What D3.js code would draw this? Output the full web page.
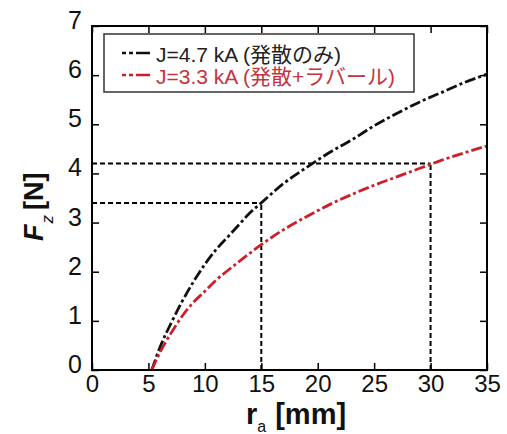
<!DOCTYPE html>
<html>
<head>
<meta charset="utf-8">
<script src="https://cdn.jsdelivr.net/npm/d3@7/dist/d3.min.js"></script>
<style>
  html, body { margin: 0; padding: 0; background: #fff; }
  svg { display: block; font-family: "Liberation Sans", Arial, "Noto Sans CJK JP", sans-serif; }
</style>
</head>
<body>
<svg id="chart" width="507" height="434"></svg>
<script>
  // values
  var radius = [5.3, 6, 7, 8, 9, 10, 11, 12, 13, 14, 15, 17, 19, 21, 23, 25, 27, 29, 31, 33, 35];
  var forceDiffOnly = [0, 0.45, 0.95, 1.4, 1.8, 2.15, 2.45, 2.7, 2.95, 3.2, 3.4, 3.8, 4.12, 4.42, 4.68, 4.97, 5.22, 5.45, 5.65, 5.85, 6.02];
  var forceDiffLaval = [0, 0.35, 0.75, 1.1, 1.38, 1.6, 1.83, 2.02, 2.2, 2.38, 2.55, 2.86, 3.12, 3.36, 3.57, 3.76, 3.93, 4.1, 4.27, 4.42, 4.56];
  var seriesNames = ['J=4.7 kA (発散のみ)', 'J=3.3 kA (発散+ラバール)'];
  var seriesColors = ['#111111', '#cc1f2a'];
  var textColors = ['#222222', '#c8323c'];
  var xTicks = [0, 5, 10, 15, 20, 25, 30, 35];
  var yTicks = [0, 1, 2, 3, 4, 5, 6, 7];
  // reference guides: [x, y] where each guide meets its curve
  var guides = [[15, 3.4], [30, 4.2]];

  var svg = d3.select('#chart');
  var m = { left: 92, right: 487, top: 26, bottom: 370 };

  var x = d3.scaleLinear().domain([0, 35]).range([m.left, m.right]);
  var y = d3.scaleLinear().domain([0, 7]).range([m.bottom, m.top]);

  // guide lines
  var g = svg.append('g');
  guides.forEach(function (p) {
    g.append('line')
      .attr('x1', x(0)).attr('x2', x(p[0]))
      .attr('y1', y(p[1])).attr('y2', y(p[1]))
      .attr('stroke', '#000').attr('stroke-width', 2).attr('stroke-dasharray', '5,3');
    g.append('line')
      .attr('x1', x(p[0])).attr('x2', x(p[0]))
      .attr('y1', y(0)).attr('y2', y(p[1]))
      .attr('stroke', '#000').attr('stroke-width', 2).attr('stroke-dasharray', '5,3');
  });

  // curves
  var line = d3.line()
    .x(function (d) { return x(d[0]); })
    .y(function (d) { return y(d[1]); })
    .curve(d3.curveMonotoneX);

  [forceDiffOnly, forceDiffLaval].forEach(function (vals, i) {
    svg.append('path')
      .datum(radius.map(function (r, k) { return [r, vals[k]]; }))
      .attr('d', line)
      .attr('fill', 'none')
      .attr('stroke', seriesColors[i])
      .attr('stroke-width', 2.8)
      .attr('stroke-dasharray', '11,3,3,3');
  });

  // axes (inward ticks on all four sides)
  var tickLen = 7;
  svg.append('g').attr('transform', 'translate(0,' + m.bottom + ')')
    .call(d3.axisBottom(x).tickValues(xTicks).tickFormat(d3.format('d')).tickSize(-tickLen).tickPadding(6))
    .call(function (a) {
      a.select('.domain').remove();
      a.selectAll('line').attr('stroke', '#000').attr('stroke-width', 1.5);
      a.selectAll('text').attr('font-size', 24).attr('fill', '#111').attr('dy', '0.78em').attr('y', 3);
    });
  svg.append('g').attr('transform', 'translate(0,' + m.top + ')')
    .call(d3.axisTop(x).tickValues(xTicks).tickSize(-tickLen).tickFormat(''))
    .call(function (a) {
      a.select('.domain').remove();
      a.selectAll('line').attr('stroke', '#000').attr('stroke-width', 1.5);
    });
  svg.append('g').attr('transform', 'translate(' + m.left + ',0)')
    .call(d3.axisLeft(y).tickValues(yTicks).tickFormat(d3.format('d')).tickSize(-tickLen).tickPadding(10))
    .call(function (a) {
      a.select('.domain').remove();
      a.selectAll('line').attr('stroke', '#000').attr('stroke-width', 1.5);
      a.selectAll('text').attr('font-size', 25).attr('fill', '#111').attr('dy', '0.1em');
    });
  svg.append('g').attr('transform', 'translate(' + m.right + ',0)')
    .call(d3.axisRight(y).tickValues(yTicks).tickSize(-tickLen).tickFormat(''))
    .call(function (a) {
      a.select('.domain').remove();
      a.selectAll('line').attr('stroke', '#000').attr('stroke-width', 1.5);
    });

  // frame
  svg.append('rect')
    .attr('x', m.left).attr('y', m.top)
    .attr('width', m.right - m.left).attr('height', m.bottom - m.top)
    .attr('fill', 'none').attr('stroke', '#000').attr('stroke-width', 2);

  // legend
  var leg = svg.append('g');
  leg.append('rect').attr('x', 104).attr('y', 34).attr('width', 310).attr('height', 58)
    .attr('fill', '#fff').attr('stroke', '#333').attr('stroke-width', 1.5);
  seriesNames.forEach(function (name, i) {
    var ly = 53 + i * 22;
    leg.append('line').attr('x1', 122).attr('x2', 150).attr('y1', ly).attr('y2', ly)
      .attr('stroke', seriesColors[i]).attr('stroke-width', 2.6)
      .attr('stroke-dasharray', '4,3,4,3,14');
    leg.append('text').attr('x', 156).attr('y', ly + 9)
      .attr('font-size', 21).attr('fill', textColors[i])
      .text(name);
  });

  // x label
  var xl = svg.append('text').attr('x', 246).attr('y', 424)
    .attr('font-size', 29).attr('font-weight', 'bold').attr('fill', '#111');
  xl.append('tspan').text('r');
  xl.append('tspan').attr('dy', 8).attr('font-size', 16).attr('font-weight', 'normal').text('a');
  xl.append('tspan').attr('dy', -8).attr('dx', 9).text('[mm]');

  // y label
  var yl = svg.append('text')
    .attr('transform', 'translate(43,241) rotate(-90)')
    .attr('font-size', 27).attr('font-weight', 'bold').attr('fill', '#111');
  yl.append('tspan').attr('font-style', 'italic').text('F');
  yl.append('tspan').attr('dy', 10).attr('dx', 1).attr('font-size', 17).attr('font-style', 'italic').attr('font-weight', 'normal').text('z');
  yl.append('tspan').attr('dy', -10).attr('dx', 5).text('[N]');
</script>
</body>
</html>
